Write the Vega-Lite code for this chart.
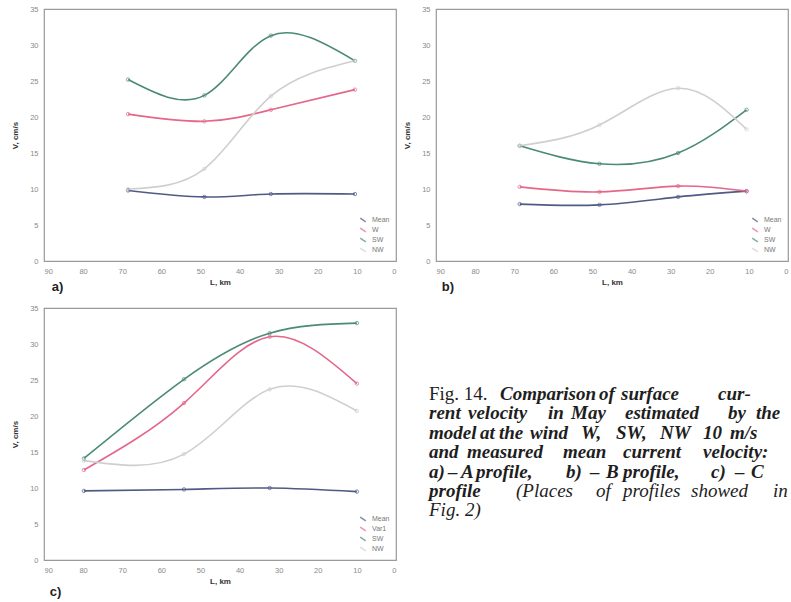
{
  "$schema": "https://vega.github.io/schema/vega-lite/v6.json",
  "background": "white",
  "padding": {"left": 11, "top": 4, "right": 0, "bottom": 0},
  "datasets": {
    "profiles": [
      {"panel": "a", "series": "Mean", "L": 68.5, "V": 9.8},
      {"panel": "a", "series": "Mean", "L": 49, "V": 8.9},
      {"panel": "a", "series": "Mean", "L": 32, "V": 9.3},
      {"panel": "a", "series": "Mean", "L": 10.5, "V": 9.3},
      {"panel": "a", "series": "W", "L": 68.5, "V": 20.4},
      {"panel": "a", "series": "W", "L": 49, "V": 19.4},
      {"panel": "a", "series": "W", "L": 32, "V": 21.0},
      {"panel": "a", "series": "W", "L": 10.5, "V": 23.8},
      {"panel": "a", "series": "SW", "L": 68.5, "V": 25.2},
      {"panel": "a", "series": "SW", "L": 49, "V": 23.0},
      {"panel": "a", "series": "SW", "L": 32, "V": 31.3},
      {"panel": "a", "series": "SW", "L": 10.5, "V": 27.8},
      {"panel": "a", "series": "NW", "L": 68.5, "V": 10.0},
      {"panel": "a", "series": "NW", "L": 49, "V": 12.8},
      {"panel": "a", "series": "NW", "L": 32, "V": 22.9},
      {"panel": "a", "series": "NW", "L": 10.5, "V": 27.8},
      {"panel": "b", "series": "Mean", "L": 68.6, "V": 7.9},
      {"panel": "b", "series": "Mean", "L": 48.2, "V": 7.8},
      {"panel": "b", "series": "Mean", "L": 28.1, "V": 8.9},
      {"panel": "b", "series": "Mean", "L": 10.6, "V": 9.7},
      {"panel": "b", "series": "W", "L": 68.6, "V": 10.3},
      {"panel": "b", "series": "W", "L": 48.2, "V": 9.6},
      {"panel": "b", "series": "W", "L": 28.1, "V": 10.4},
      {"panel": "b", "series": "W", "L": 10.6, "V": 9.7},
      {"panel": "b", "series": "SW", "L": 68.6, "V": 16.0},
      {"panel": "b", "series": "SW", "L": 48.2, "V": 13.5},
      {"panel": "b", "series": "SW", "L": 28.1, "V": 15.0},
      {"panel": "b", "series": "SW", "L": 10.6, "V": 21.0},
      {"panel": "b", "series": "NW", "L": 68.6, "V": 16.0},
      {"panel": "b", "series": "NW", "L": 48.2, "V": 18.9},
      {"panel": "b", "series": "NW", "L": 28.1, "V": 24.0},
      {"panel": "b", "series": "NW", "L": 10.6, "V": 18.3},
      {"panel": "c", "series": "Mean", "L": 79.8, "V": 9.6},
      {"panel": "c", "series": "Mean", "L": 54.2, "V": 9.8},
      {"panel": "c", "series": "Mean", "L": 32.3, "V": 10.0},
      {"panel": "c", "series": "Mean", "L": 10, "V": 9.5},
      {"panel": "c", "series": "Var1", "L": 79.8, "V": 12.5},
      {"panel": "c", "series": "Var1", "L": 54.2, "V": 21.8},
      {"panel": "c", "series": "Var1", "L": 32.3, "V": 31.0},
      {"panel": "c", "series": "Var1", "L": 10, "V": 24.5},
      {"panel": "c", "series": "SW", "L": 79.8, "V": 14.1},
      {"panel": "c", "series": "SW", "L": 54.2, "V": 25.1},
      {"panel": "c", "series": "SW", "L": 32.3, "V": 31.5},
      {"panel": "c", "series": "SW", "L": 10, "V": 32.9},
      {"panel": "c", "series": "NW", "L": 79.8, "V": 13.8},
      {"panel": "c", "series": "NW", "L": 54.2, "V": 14.7},
      {"panel": "c", "series": "NW", "L": 32.3, "V": 23.7},
      {"panel": "c", "series": "NW", "L": 10, "V": 20.7}
    ],
    "caption": [
      {"line": 1, "pos": 0, "txt": "Fig. 14.", "sty": "n"},
      {"line": 1, "pos": 71, "txt": "Comparison", "sty": "bi"},
      {"line": 1, "pos": 170, "txt": "of", "sty": "bi"},
      {"line": 1, "pos": 192, "txt": "surface", "sty": "bi"},
      {"line": 1, "pos": 289, "txt": "cur-", "sty": "bi"},
      {"line": 2, "pos": 0, "txt": "rent", "sty": "bi"},
      {"line": 2, "pos": 39, "txt": "velocity", "sty": "bi"},
      {"line": 2, "pos": 119, "txt": "in", "sty": "bi"},
      {"line": 2, "pos": 142, "txt": "May", "sty": "bi"},
      {"line": 2, "pos": 196, "txt": "estimated", "sty": "bi"},
      {"line": 2, "pos": 299, "txt": "by", "sty": "bi"},
      {"line": 2, "pos": 327, "txt": "the", "sty": "bi"},
      {"line": 3, "pos": 0, "txt": "model", "sty": "bi"},
      {"line": 3, "pos": 51, "txt": "at", "sty": "bi"},
      {"line": 3, "pos": 70, "txt": "the", "sty": "bi"},
      {"line": 3, "pos": 101, "txt": "wind", "sty": "bi"},
      {"line": 3, "pos": 152, "txt": "W,", "sty": "bi"},
      {"line": 3, "pos": 187, "txt": "SW,", "sty": "bi"},
      {"line": 3, "pos": 231, "txt": "NW", "sty": "bi"},
      {"line": 3, "pos": 274, "txt": "10", "sty": "bi"},
      {"line": 3, "pos": 301, "txt": "m/s", "sty": "bi"},
      {"line": 4, "pos": 0, "txt": "and", "sty": "bi"},
      {"line": 4, "pos": 38, "txt": "measured", "sty": "bi"},
      {"line": 4, "pos": 134, "txt": "mean", "sty": "bi"},
      {"line": 4, "pos": 194, "txt": "current", "sty": "bi"},
      {"line": 4, "pos": 274, "txt": "velocity:", "sty": "bi"},
      {"line": 5, "pos": 0, "txt": "a)", "sty": "bi"},
      {"line": 5, "pos": 19, "txt": "\u2013", "sty": "bi"},
      {"line": 5, "pos": 32, "txt": "A", "sty": "bi"},
      {"line": 5, "pos": 47, "txt": "profile,", "sty": "bi"},
      {"line": 5, "pos": 137, "txt": "b)", "sty": "bi"},
      {"line": 5, "pos": 161, "txt": "\u2013", "sty": "bi"},
      {"line": 5, "pos": 177, "txt": "B", "sty": "bi"},
      {"line": 5, "pos": 194, "txt": "profile,", "sty": "bi"},
      {"line": 5, "pos": 282, "txt": "c)", "sty": "bi"},
      {"line": 5, "pos": 306, "txt": "\u2013", "sty": "bi"},
      {"line": 5, "pos": 322, "txt": "C", "sty": "bi"},
      {"line": 6, "pos": 0, "txt": "profile", "sty": "bi"},
      {"line": 6, "pos": 87, "txt": "(Places", "sty": "i"},
      {"line": 6, "pos": 167, "txt": "of", "sty": "i"},
      {"line": 6, "pos": 194, "txt": "profiles", "sty": "i"},
      {"line": 6, "pos": 262, "txt": "showed", "sty": "i"},
      {"line": 6, "pos": 344, "txt": "in", "sty": "i"},
      {"line": 7, "pos": 0, "txt": "Fig. 2)", "sty": "i"}
    ],
    "labels": [
      {"panel": "a", "L": 88, "V": -3.6, "lab": "a)"},
      {"panel": "b", "L": 88.5, "V": -3.6, "lab": "b)"},
      {"panel": "c", "L": 88.5, "V": -4.5, "lab": "c)"}
    ]
  },
  "data": {"name": "profiles"},
  "config": {
    "view": {"stroke": "#9a9a9a", "strokeWidth": 1.2},
    "axis": {
      "grid": false, "ticks": false, "domain": false,
      "labelColor": "#8a8a8a", "labelFontSize": 7.5, "labelFont": "Liberation Sans",
      "titleFont": "Liberation Sans", "titleFontWeight": "bold", "titleFontSize": 8, "titleColor": "#333333"
    },
    "legend": {
      "orient": "bottom-right", "offset": 3, "padding": 3, "title": null,
      "labelFontSize": 7, "labelColor": "#777777", "labelFont": "Liberation Sans",
      "symbolType": "M-0.7,-0.45L0.7,0.45", "symbolSize": 64, "symbolStrokeWidth": 1.5,
      "rowPadding": 0, "labelOffset": 4
    }
  },
  "resolve": {"scale": {"color": "independent"}, "legend": {"color": "independent"}},
  "spacing": 8,
  "vconcat": [
    {
      "resolve": {"scale": {"color": "independent"}, "legend": {"color": "independent"}},
      "spacing": 6,
      "hconcat": [
        {
          "width": 352, "height": 252,
          "encoding": {
            "x": {"field": "L", "type": "quantitative", "scale": {"domain": [0, 90], "reverse": true, "nice": false}, "axis": {"values": [0, 10, 20, 30, 40, 50, 60, 70, 80, 90], "title": "L, km", "labelPadding": 6, "titlePadding": 4}},
            "y": {"field": "V", "type": "quantitative", "scale": {"domain": [0, 35], "nice": false}, "axis": {"values": [0, 5, 10, 15, 20, 25, 30, 35], "title": "V, cm/s", "labelPadding": 6, "titlePadding": 10}}
          },
          "layer": [
            {"transform": [{"filter": "datum.panel === 'a'"}], "mark": {"type": "line", "interpolate": "natural", "strokeWidth": 1.6},
             "encoding": {"color": {"field": "series", "type": "nominal", "scale": {"domain": ["Mean", "W", "SW", "NW"], "range": ["#4f5b84", "#e4678a", "#4b8a78", "#cfcfcf"]}}}},
            {"transform": [{"filter": "datum.panel === 'a'"}], "mark": {"type": "point", "shape": "circle", "size": 12, "filled": false, "strokeWidth": 1},
             "encoding": {"color": {"field": "series", "type": "nominal"}}},
            {"data": {"name": "labels"}, "transform": [{"filter": "datum.panel === 'a'"}], "mark": {"type": "text", "align": "left", "baseline": "middle", "font": "Liberation Sans", "fontSize": 13, "fontWeight": "bold", "color": "#222222"},
             "encoding": {"text": {"field": "lab"}}}
          ]
        },
        {
          "width": 352, "height": 252,
          "encoding": {
            "x": {"field": "L", "type": "quantitative", "scale": {"domain": [0, 90], "reverse": true, "nice": false}, "axis": {"values": [0, 10, 20, 30, 40, 50, 60, 70, 80, 90], "title": "L, km", "labelPadding": 6, "titlePadding": 4}},
            "y": {"field": "V", "type": "quantitative", "scale": {"domain": [0, 35], "nice": false}, "axis": {"values": [0, 5, 10, 15, 20, 25, 30, 35], "title": "V, cm/s", "labelPadding": 6, "titlePadding": 10}}
          },
          "layer": [
            {"transform": [{"filter": "datum.panel === 'b'"}], "mark": {"type": "line", "interpolate": "natural", "strokeWidth": 1.6},
             "encoding": {"color": {"field": "series", "type": "nominal", "scale": {"domain": ["Mean", "W", "SW", "NW"], "range": ["#4f5b84", "#e4678a", "#4b8a78", "#cfcfcf"]}}}},
            {"transform": [{"filter": "datum.panel === 'b'"}], "mark": {"type": "point", "shape": "circle", "size": 12, "filled": false, "strokeWidth": 1},
             "encoding": {"color": {"field": "series", "type": "nominal"}}},
            {"data": {"name": "labels"}, "transform": [{"filter": "datum.panel === 'b'"}], "mark": {"type": "text", "align": "left", "baseline": "middle", "font": "Liberation Sans", "fontSize": 13, "fontWeight": "bold", "color": "#222222"},
             "encoding": {"text": {"field": "lab"}}}
          ]
        }
      ]
    },
    {
      "resolve": {"scale": {"color": "independent"}, "legend": {"color": "independent"}},
      "spacing": 32,
      "hconcat": [
        {
          "width": 352, "height": 252,
          "encoding": {
            "x": {"field": "L", "type": "quantitative", "scale": {"domain": [0, 90], "reverse": true, "nice": false}, "axis": {"values": [0, 10, 20, 30, 40, 50, 60, 70, 80, 90], "title": "L, km", "labelPadding": 6, "titlePadding": 4}},
            "y": {"field": "V", "type": "quantitative", "scale": {"domain": [0, 35], "nice": false}, "axis": {"values": [0, 5, 10, 15, 20, 25, 30, 35], "title": "V, cm/s", "labelPadding": 6, "titlePadding": 10}}
          },
          "layer": [
            {"transform": [{"filter": "datum.panel === 'c'"}], "mark": {"type": "line", "interpolate": "natural", "strokeWidth": 1.6},
             "encoding": {"color": {"field": "series", "type": "nominal", "scale": {"domain": ["Mean", "Var1", "SW", "NW"], "range": ["#4f5b84", "#e4678a", "#4b8a78", "#cfcfcf"]}}}},
            {"transform": [{"filter": "datum.panel === 'c'"}], "mark": {"type": "point", "shape": "circle", "size": 12, "filled": false, "strokeWidth": 1},
             "encoding": {"color": {"field": "series", "type": "nominal"}}},
            {"data": {"name": "labels"}, "transform": [{"filter": "datum.panel === 'c'"}], "mark": {"type": "text", "align": "left", "baseline": "middle", "font": "Liberation Sans", "fontSize": 13, "fontWeight": "bold", "color": "#222222"},
             "encoding": {"text": {"field": "lab"}}}
          ]
        },
        {
          "width": 360, "height": 252,
          "view": {"stroke": null},
          "data": {"name": "caption"},
          "encoding": {
            "x": {"field": "pos", "type": "quantitative", "scale": {"domain": [0, 360], "nice": false, "zero": false}, "axis": null},
            "y": {"field": "line", "type": "quantitative", "scale": {"domain": [-3.74, 9.25], "reverse": true, "nice": false, "zero": false}, "axis": null},
            "text": {"field": "txt", "type": "nominal"}
          },
          "layer": [
            {"transform": [{"filter": "datum.sty === 'n'"}], "mark": {"type": "text", "align": "left", "baseline": "alphabetic", "font": "Liberation Serif", "fontSize": 19, "color": "#1e1e1e"}},
            {"transform": [{"filter": "datum.sty === 'bi'"}], "mark": {"type": "text", "align": "left", "baseline": "alphabetic", "font": "Liberation Serif", "fontSize": 19, "fontStyle": "italic", "fontWeight": "bold", "color": "#1e1e1e"}},
            {"transform": [{"filter": "datum.sty === 'i'"}], "mark": {"type": "text", "align": "left", "baseline": "alphabetic", "font": "Liberation Serif", "fontSize": 19, "fontStyle": "italic", "color": "#1e1e1e"}}
          ]
        }
      ]
    }
  ]
}
